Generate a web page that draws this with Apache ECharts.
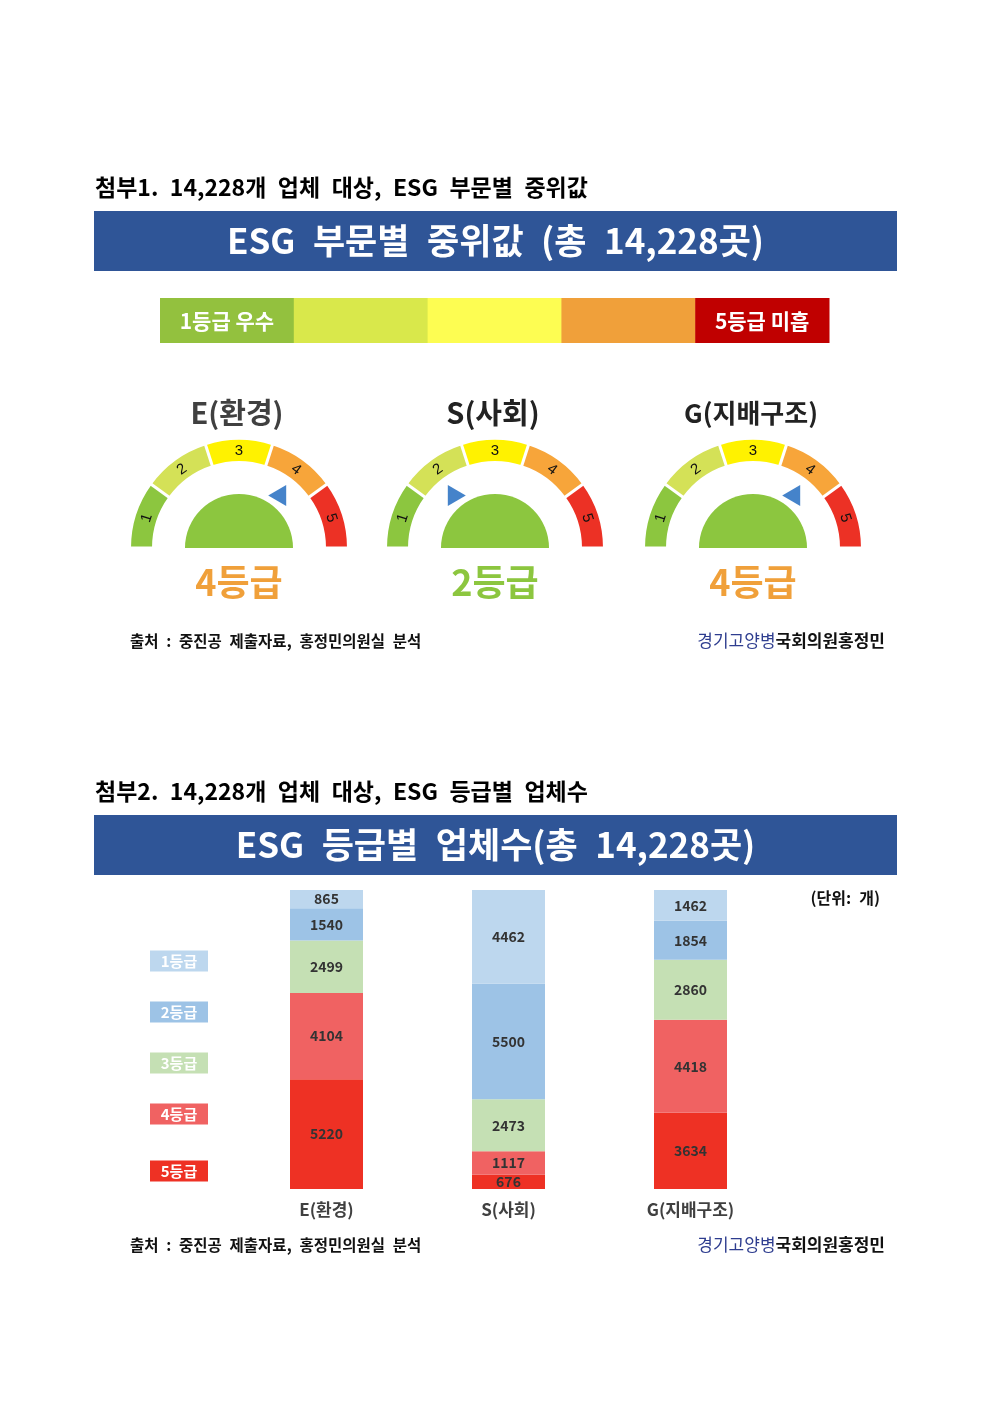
<!DOCTYPE html>
<html>
<head>
<meta charset="UTF-8">
<title>ESG 부문별 중위값 / 등급별 업체수</title>
<script src="https://cdn.jsdelivr.net/npm/echarts@6/dist/echarts.min.js"></script>
</head>
<body style="margin:0; background:#fff">
<div id="chart" style="width:992px;height:1403px"></div>
<script>
var FONT = '"Noto Sans CJK KR", "Noto Sans", sans-serif';
var SP = '\u2002'; // en space, the source uses wide word gaps

// 부문별 중위 등급
var sectors = ['E(환경)', 'S(사회)', 'G(지배구조)'];
var medianGrades = [4, 2, 4];

// 등급별 업체수 (단위: 개)
var gradeNames = ['1등급', '2등급', '3등급', '4등급', '5등급'];
var grade1 = [865, 4462, 1462];
var grade2 = [1540, 5500, 1854];
var grade3 = [2499, 2473, 2860];
var grade4 = [4104, 1117, 4418];
var grade5 = [5220, 676, 3634];
var totalCount = 14228;

var scaleLabels = ['1등급 우수', '', '', '', '5등급 미흡'];
var gaugeTicks = ['1', '2', '3', '4', '5'];

// colours
var scaleColors = ['#93c13e', '#d9e84b', '#fdfd52', '#f0a03a', '#c00000'];
var arcColors = ['#8cc63f', '#d4e157', '#fff200', '#f7a53a', '#ec3125'];
var detailColors = ['#8cc63f', '#8cc63f', '#e6c200', '#f0a03a', '#ec3125'];
var barColors = ['#bdd7ee', '#9dc3e6', '#c5e0b4', '#f06262', '#ee3124'];
var titleColors = ['#404040', '#222', '#222'];
var titleSizes = [29, 29, 26];

var chart = echarts.init(document.getElementById('chart'));

function wide(s) { return s.split(' ').join(SP); }

// ---- graphic decorations ----
var g = [];
function text(x, y, str, size, color, align, weight) {
    g.push({
        type: 'text', x: x, y: y,
        style: {
            text: str, fill: color,
            font: (weight || 'bold') + ' ' + size + 'px ' + FONT,
            textAlign: align || 'left', textVerticalAlign: 'middle'
        }
    });
}
function banner(y, str) {
    g.push({type: 'rect', shape: {x: 94, y: y, width: 803, height: 60}, style: {fill: '#2f5597'}});
    text(495.5, y + 30, wide(str), 35, '#fff', 'center');
}
function source(y) {
    text(130, y, wide('출처 : 중진공 제출자료, 홍정민의원실 분석'), 15.5, '#111');
    g.push({
        type: 'text', x: 885, y: y,
        style: {
            text: '{a|경기고양병}{b|국회의원홍정민}',
            textAlign: 'right', textVerticalAlign: 'middle',
            rich: {
                a: {fill: '#2e3d8f', fontSize: 17, fontWeight: 'normal', fontFamily: FONT},
                b: {fill: '#111', fontSize: 17, fontWeight: 'bold', fontFamily: FONT}
            }
        }
    });
}

text(95, 187, wide('첨부1. 14,228개 업체 대상, ESG 부문별 중위값'), 23, '#000');
banner(211, 'ESG 부문별 중위값 (총 14,228곳)');

// 등급 스케일 바
var segW = 669 / scaleColors.length;
scaleColors.forEach(function (c, k) {
    g.push({type: 'rect', shape: {x: 160 + k * segW, y: 298, width: segW + 0.5, height: 45}, style: {fill: c}});
    if (scaleLabels[k]) text(160 + k * segW + segW / 2, 321, scaleLabels[k], 21, '#fff', 'center');
});
source(641);

text(95, 791, wide('첨부2. 14,228개 업체 대상, ESG 등급별 업체수'), 23, '#000');
banner(815, 'ESG 등급별 업체수(총 14,228곳)');
text(880, 898, wide('(단위: 개)'), 16, '#111', 'right');

// 등급 범례
var legendY = [961, 1012, 1063, 1114, 1171];
gradeNames.forEach(function (nm, k) {
    g.push({type: 'rect', shape: {x: 150, y: legendY[k] - 10.5, width: 58, height: 21}, style: {fill: barColors[k]}});
    text(179, legendY[k], nm, 15, '#fff', 'center');
});
source(1245);

// ---- gauges ----
var centers = [[239, 548], [495, 548], [753, 548]];
var series = [];
sectors.forEach(function (name, i) {
    var c = centers[i];
    var grade = medianGrades[i];
    // 안쪽 반원
    series.push({
        type: 'gauge', center: c, radius: 54, startAngle: 180, endAngle: 0,
        axisLine: {lineStyle: {width: 54, color: [[1, '#8cc63f']]}},
        splitLine: {show: false}, axisTick: {show: false}, axisLabel: {show: false},
        pointer: {show: false}, anchor: {show: false}, title: {show: false}, detail: {show: false},
        data: [{value: 0}]
    });
    // 등급 호
    series.push({
        type: 'gauge', center: c, radius: 108, startAngle: 180, endAngle: 0,
        min: 0, max: 5, splitNumber: 5,
        axisLine: {lineStyle: {width: 21, color: arcColors.map(function (col, k) { return [(k + 1) / 5, col]; })}},
        splitLine: {length: 23, distance: -22, lineStyle: {color: '#fff', width: 3}},
        axisTick: {show: false}, axisLabel: {show: false},
        pointer: {show: false}, anchor: {show: false},
        title: {offsetCenter: [-2, -135], fontSize: titleSizes[i], fontWeight: 'bold', color: titleColors[i], fontFamily: FONT},
        detail: {
            offsetCenter: [0, 34], formatter: '{value}등급', fontSize: 36, fontWeight: 'bold',
            color: detailColors[grade - 1], fontFamily: FONT, valueAnimation: false
        },
        data: [{value: grade, name: name}]
    });
    // 호 위의 숫자
    series.push({
        type: 'gauge', center: c, radius: 108, startAngle: 162, endAngle: 18,
        min: 1, max: 5, splitNumber: 4,
        axisLine: {show: false}, splitLine: {show: false, length: 0, distance: 0}, axisTick: {show: false},
        axisLabel: {
            distance: 11, rotate: 'tangential', fontSize: 15, color: '#111', fontFamily: 'Liberation Sans',
            formatter: function (v) { return gaugeTicks[Math.round(v) - 1]; }
        },
        pointer: {show: false}, anchor: {show: false}, title: {show: false}, detail: {show: false},
        data: [{value: 1}]
    });
    // 파란 삼각형 표시
    series.push({
        type: 'scatter', coordinateSystem: 'polar', polarIndex: i,
        symbol: 'triangle', symbolSize: [21, 18], symbolRotate: grade > 3 ? 90 : -90,
        itemStyle: {color: '#1764bd'}, silent: true,
        data: [[65, grade - 0.5]]
    });
});

// ---- stacked bars (아래부터 5등급) ----
var gradeData = [grade1, grade2, grade3, grade4, grade5];
for (var k = 4; k >= 0; k--) {
    series.push({
        type: 'bar', name: gradeNames[k], stack: 'total', barWidth: 73,
        data: gradeData[k],
        itemStyle: {color: barColors[k]},
        label: {show: true, position: 'inside', fontSize: 14, fontWeight: 'bold', color: '#333', fontFamily: FONT}
    });
}

var option = {
    animation: false,
    backgroundColor: '#fff',
    textStyle: {fontFamily: FONT},
    graphic: {elements: g},
    polar: centers.map(function (c) { return {center: c, radius: 108}; }),
    angleAxis: centers.map(function (c, i) {
        return {polarIndex: i, type: 'value', min: 0, max: 10, startAngle: 180, clockwise: true, show: false};
    }),
    radiusAxis: centers.map(function (c, i) {
        return {polarIndex: i, type: 'value', min: 0, max: 108, show: false};
    }),
    grid: {left: 235.5, top: 890, width: 546, height: 299},
    xAxis: {
        type: 'category', data: sectors,
        axisLine: {show: false}, axisTick: {show: false},
        axisLabel: {fontSize: 17, fontWeight: 'bold', color: '#404040', margin: 12, fontFamily: FONT}
    },
    yAxis: {type: 'value', min: 0, max: totalCount, show: false},
    series: series
};
chart.setOption(option);
</script>
</body>
</html>
